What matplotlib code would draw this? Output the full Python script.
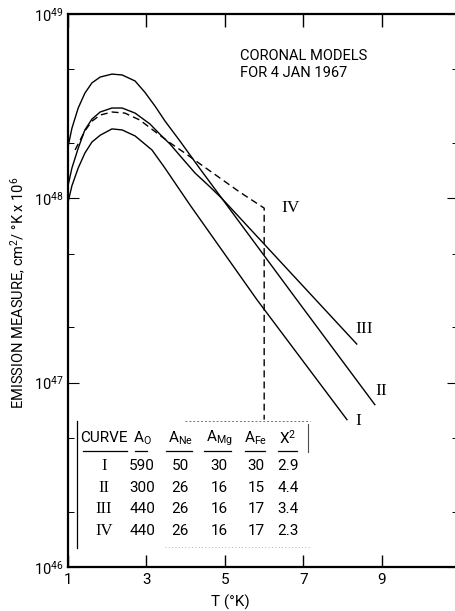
import matplotlib
matplotlib.use("Agg")
import matplotlib.pyplot as plt
from matplotlib.ticker import LogLocator, FixedLocator, NullFormatter, LogFormatterSciNotation

# ---------------- data ----------------
T_I = [1.00, 1.10, 1.26, 1.43, 1.61, 1.82, 2.12, 2.38, 2.71, 3.14, 3.47, 3.73, 4.11,
       5.82, 8.11]
EM_I = [9.5e47, 1.17e48, 1.46e48, 1.76e48, 2.02e48, 2.20e48, 2.38e48, 2.35e48, 2.18e48,
        1.83e48, 1.46e48, 1.21e48, 9.2e47, 2.81e47, 6.3e46]

T_II = [1.00, 1.10, 1.26, 1.43, 1.61, 1.82, 2.12, 2.38, 2.71, 3.09, 3.34, 3.60, 3.90,
        4.24, 4.57, 4.92, 6.83, 8.82]
EM_II = [1.17e48, 1.46e48, 1.87e48, 2.35e48, 2.69e48, 2.94e48, 3.09e48, 3.09e48, 2.90e48,
         2.53e48, 2.23e48, 1.97e48, 1.66e48, 1.37e48, 1.18e48, 1.0e48, 2.82e47, 7.6e46]

T_III = [1.00, 1.10, 1.26, 1.43, 1.61, 1.82, 2.12, 2.38, 2.71, 2.96, 3.22, 3.47, 3.85,
         4.36, 4.92, 6.66, 8.36]
EM_III = [1.9e48, 2.40e48, 3.09e48, 3.72e48, 4.23e48, 4.55e48, 4.72e48, 4.67e48, 4.33e48,
          3.76e48, 3.16e48, 2.63e48, 2.05e48, 1.45e48, 1.0e48, 3.98e47, 1.62e47]

T_IV = [1.18, 1.31, 1.43, 1.61, 1.82, 2.12, 2.45, 2.83, 3.22, 3.60, 3.98, 4.36, 4.87,
        5.38, 6.00, 6.00]
EM_IV = [1.83e48, 2.07e48, 2.32e48, 2.62e48, 2.83e48, 2.94e48, 2.90e48, 2.66e48, 2.30e48,
         2.0e48, 1.76e48, 1.54e48, 1.29e48, 1.08e48, 8.85e47, 6.3e46]

curve_names = ["I", "II", "III", "IV"]
table_header = ["CURVE", "A$_O$", "A$_{Ne}$", "A$_{Mg}$", "A$_{Fe}$", "X$^2$"]
A_O = [590, 300, 440, 440]
A_Ne = [50, 26, 26, 26]
A_Mg = [30, 16, 16, 16]
A_Fe = [30, 15, 17, 17]
chi2 = ["2.9", "4.4", "3.4", "2.3"]

x_ticks = [1, 3, 5, 7, 9]
title_text = "CORONAL MODELS\nFOR 4 JAN 1967"
x_label = "T (°K)"
y_label = "EMISSION MEASURE, cm$^2$/ °K x 10$^6$"

# ---------------- style ----------------
plt.rcParams['font.family'] = ['Roboto', 'DejaVu Sans']
plt.rcParams['font.weight'] = 'normal'
plt.rcParams['mathtext.default'] = 'regular'

W, H = 456, 611
fig = plt.figure(figsize=(W / 100, H / 100), dpi=100)
fig.patch.set_facecolor('white')


def P(px, py):
    return px / W, 1 - py / H


ax = fig.add_axes([68 / W, 1 - 567 / H, 390 / W, 553 / H])
ax.set_yscale('log')
ax.set_xlim(1, 10.94)
ax.set_ylim(1e46, 1e49)

lw = 1.0
ax.plot(T_I, EM_I, color='black', lw=lw)
ax.plot(T_II, EM_II, color='black', lw=lw)
ax.plot(T_III, EM_III, color='black', lw=lw)
ax.plot(T_IV, EM_IV, color='black', lw=lw, linestyle=(0, (5, 3)))

# curve labels
lab_font = dict(family='Liberation Serif', fontweight='normal', fontsize=12.5,
                ha='center', va='center', transform=fig.transFigure)
fig.text(*P(291, 208), "IV", **lab_font)
fig.text(*P(364, 329), "III", **lab_font)
fig.text(*P(381, 391), "II", **lab_font)
fig.text(*P(358, 421), "I", **lab_font)

# title
fig.text(*P(240, 49), title_text, fontsize=10.5, ha='left', va='top',
         linespacing=1.25)

# axes styling
for s in ['left', 'bottom', 'top']:
    ax.spines[s].set_linewidth(1.6)
ax.spines['right'].set_visible(False)

ax.xaxis.set_major_locator(FixedLocator(x_ticks))
ax.set_xticklabels([str(v) for v in x_ticks], fontsize=11)
ax.tick_params(axis='x', which='major', direction='in', length=9, width=1.0,
               top=True, bottom=True, pad=4)
ax.yaxis.set_major_locator(LogLocator(base=10, numticks=10))
ax.yaxis.set_major_formatter(LogFormatterSciNotation())
ax.yaxis.set_minor_locator(LogLocator(base=10, subs=[2.0, 5.0], numticks=10))
ax.yaxis.set_minor_formatter(NullFormatter())
ax.tick_params(axis='y', which='major', direction='in', length=8, width=0.8,
               left=True, right=True, labelsize=10.5, pad=3)
ax.tick_params(axis='y', which='minor', direction='in', length=4, width=0.7,
               left=True, right=True)

fig.text(*P(230, 602), x_label, fontsize=11, ha='center', va='center')
fig.text(*P(18, 293), y_label, fontsize=10.5, ha='center', va='center', rotation=90)

# ---------------- table ----------------
tb = plt.Rectangle(P(77, 548), (310 - 77) / W, (548 - 421) / H, transform=fig.transFigure,
                   facecolor='white', edgecolor='none', zorder=5)
fig.patches.append(tb)
fig.lines.append(plt.Line2D([77 / W, 77 / W], [1 - 421 / H, 1 - 548 / H],
                            transform=fig.transFigure, color='black', lw=0.9, zorder=6))
fig.lines.append(plt.Line2D([185 / W, 310 / W], [1 - 421 / H, 1 - 421 / H],
                            transform=fig.transFigure, color='0.45', lw=0.7,
                            linestyle=(0, (2, 2)), zorder=6))
fig.lines.append(plt.Line2D([308 / W, 308 / W], [1 - 424 / H, 1 - 452 / H],
                            transform=fig.transFigure, color='0.3', lw=0.8, zorder=6))
fig.lines.append(plt.Line2D([165 / W, 310 / W], [1 - 547 / H, 1 - 547 / H],
                            transform=fig.transFigure, color='0.6', lw=0.6,
                            linestyle=(0, (1, 3)), zorder=6))

col_x = [104, 142, 180, 219, 256, 288]
ul = [(83, 127), (135, 147), (166, 192), (204, 231), (245, 265), (278, 297)]
tfont = dict(fontsize=11, ha='center', va='center', zorder=7)
for cx, h, (u0, u1) in zip(col_x, table_header, ul):
    fig.text(*P(cx, 438), h, **tfont)
    fig.lines.append(plt.Line2D([u0 / W, u1 / W], [1 - 451 / H, 1 - 451 / H],
                                transform=fig.transFigure, color='black', lw=0.9, zorder=7))

row_y = [466, 488, 509, 531]
for i, ry in enumerate(row_y):
    fig.text(*P(col_x[0], ry), curve_names[i], family='Liberation Serif',
             fontweight='normal', fontsize=12, ha='center', va='center', zorder=7)
    vals = [str(A_O[i]), str(A_Ne[i]), str(A_Mg[i]), str(A_Fe[i]), chi2[i]]
    for cx, v in zip(col_x[1:], vals):
        fig.text(*P(cx, ry), v, **tfont)

fig.savefig("out.png", dpi=100, facecolor='white')
